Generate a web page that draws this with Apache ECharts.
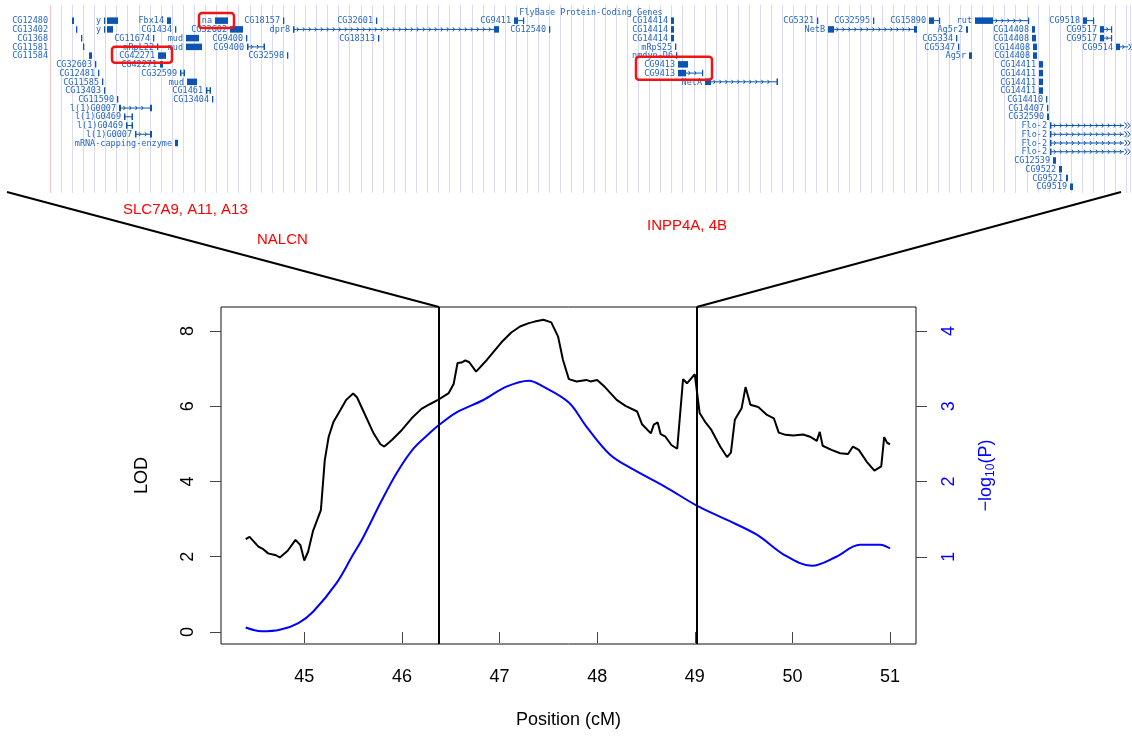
<!DOCTYPE html>
<html>
<head>
<meta charset="utf-8">
<title>LOD scan with gene track</title>
<script src="https://cdn.jsdelivr.net/npm/echarts@6/dist/echarts.min.js"></script>
<style>
  html, body { margin: 0; padding: 0; background: #fff; }
  #chart { width: 1132px; height: 740px; }
</style>
</head>
<body>
<div id="chart"></div>
<script>
// ---- QTL scan data (position in cM) ----
var lodCurve = [
  [44.40,2.47],[44.44,2.53],[44.53,2.27],[44.58,2.20],[44.63,2.09],[44.71,2.04],[44.75,1.98],
  [44.83,2.16],[44.91,2.45],[44.96,2.31],[45.00,1.90],[45.04,2.14],[45.09,2.69],[45.17,3.24],
  [45.21,4.57],[45.25,5.19],[45.30,5.59],[45.37,5.90],[45.43,6.17],[45.50,6.34],[45.54,6.24],
  [45.60,5.90],[45.71,5.28],[45.78,4.99],[45.82,4.93],[45.90,5.11],[46.00,5.37],[46.10,5.68],
  [46.20,5.93],[46.29,6.06],[46.37,6.17],[46.48,6.35],[46.53,6.59],[46.57,7.15],[46.61,7.16],
  [46.65,7.22],[46.69,7.17],[46.76,6.92],[46.87,7.23],[47.02,7.70],[47.12,7.96],[47.21,8.12],
  [47.30,8.21],[47.36,8.25],[47.45,8.30],[47.53,8.23],[47.60,7.85],[47.65,7.23],[47.71,6.72],
  [47.79,6.66],[47.89,6.70],[47.93,6.66],[48.00,6.70],[48.08,6.51],[48.20,6.17],[48.29,6.01],
  [48.41,5.86],[48.46,5.52],[48.55,5.28],[48.58,5.51],[48.62,5.57],[48.65,5.26],[48.70,5.19],
  [48.76,4.97],[48.82,4.87],[48.88,6.72],[48.92,6.61],[49.00,6.85],[49.01,6.86],[49.05,5.82],
  [49.11,5.57],[49.17,5.37],[49.26,4.93],[49.33,4.65],[49.37,4.77],[49.41,5.64],[49.48,5.95],
  [49.52,6.51],[49.54,6.56],[49.57,6.04],[49.65,5.98],[49.74,5.77],[49.81,5.68],[49.86,5.30],
  [49.93,5.24],[50.01,5.22],[50.11,5.25],[50.18,5.19],[50.25,5.08],[50.28,5.32],[50.31,4.95],
  [50.40,4.84],[50.49,4.75],[50.57,4.73],[50.62,4.93],[50.68,4.84],[50.76,4.53],[50.84,4.29],
  [50.91,4.40],[50.94,5.18],[50.97,5.03],[51.00,4.99]
];
var pCurve = [
  [44.40,0.06],[44.56,0.01],[44.75,0.03],[44.94,0.12],[45.09,0.27],[45.33,0.65],[45.50,1.03],
  [45.60,1.25],[45.79,1.74],[45.95,2.12],[46.12,2.44],[46.29,2.65],[46.37,2.74],[46.56,2.92],
  [46.83,3.08],[47.07,3.26],[47.30,3.34],[47.45,3.26],[47.71,3.05],[47.89,2.73],[48.13,2.36],
  [48.37,2.16],[48.71,1.92],[49.02,1.68],[49.33,1.49],[49.64,1.29],[49.91,1.03],[50.20,0.88],
  [50.45,1.00],[50.69,1.16],[50.90,1.16],[51.00,1.11]
];
var xTicks = [45, 46, 47, 48, 49, 50, 51];
var lodTicks = [0, 2, 4, 6, 8];
var pTicks = [1, 2, 3, 4];
var intervalBounds = [46.38, 49.02];

// ---- gene track: [name, row, start, end, kind, startBlock, endBlock, labelAt] ----
var genes = [
  ['CG12480',0,22,24,'b',0,0,-2], ['y',0,54,68,'u'], ['Fbx14',0,117,121,'b'], ['na',0,165,178,'b'],
  ['CG18157',0,233,234,'t'], ['CG32601',0,326,327,'t'], ['CG9411',0,464,474,'l',4,1],
  ['CG14414',0,621,624,'b'], ['CG5321',0,767,768,'t'], ['CG32595',0,823,824,'t'],
  ['CG15890',0,879,890,'l',5,1], ['rut',0,925,979,'l',18,1], ['CG9518',0,1033,1044,'l',4,1],
  ['CG13402',1,26,27,'t',0,0,-2], ['y',1,54,63,'u'], ['CG1434',1,125,126,'t'], ['CG32602',1,180,193,'b'],
  ['dpr8',1,243,449,'l',1.5,5], ['CG12540',1,499,500,'t'], ['CG14414',1,621,624,'b'],
  ['NetB',1,778,867,'l',6,3], ['Ag5r2',1,916,918,'b'], ['CG14408',1,982,985,'b'], ['CG9517',1,1050,1062,'l',4,1],
  ['CG1368',2,31,32,'t',0,0,-2], ['CG11674',2,103,104,'t'], ['mud',2,136,149,'b'], ['CG9400',2,196,197,'t'],
  ['CG18313',2,328,329,'t'], ['CG14414',2,621,624,'b'], ['CG5334',2,906,907,'t'], ['CG14408',2,982,986,'b'],
  ['CG9517',2,1050,1062,'l',4,1],
  ['CG11581',3,33,34,'t',0,0,-2], ['mRpL22',3,107,108,'t'], ['mud',3,136,152,'b'], ['CG9400',3,197,215,'l',1.5,1.5],
  ['mRpS25',3,625,626,'t'], ['CG5347',3,908,909,'t'], ['CG14408',3,983,987,'b'], ['CG9514',3,1066,1078,'l',4,0],
  ['CG11584',4,39,42,'b',0,0,-2], ['CG42271',4,108,116,'b'], ['CG32598',4,237,238,'t'], ['nmdyn-D6',4,626,627,'t'],
  ['Ag5r',4,919,922,'b'], ['CG14408',4,983,987,'b'],
  ['CG32603',5,45,46,'t'], ['CG42271',5,110,113,'b'], ['CG9413',5,628,638,'b'], ['CG14411',5,989,993,'b'],
  ['CG12481',6,48,49,'t'], ['CG32599',6,130,135,'l',1.5,1.5], ['CG9413',6,628,653,'l',8,1], ['CG14411',6,989,993,'b'],
  ['CG11585',7,52,53,'t'], ['mud',7,137,147,'b'], ['NetA',7,655,728,'l',6,1.5], ['CG14411',7,989,993,'b'],
  ['CG13403',8,54,55,'t'], ['CG1461',8,156,161,'l',1.5,1.5], ['CG14411',8,989,993,'b'],
  ['CG11590',9,67,68,'t'], ['CG13404',9,162,163,'t'], ['CG14410',9,996,997,'t'],
  ['l(1)G0007',10,69,102,'l',2,2], ['CG14407',10,997,998,'t'],
  ['l(1)G0469',11,74,83,'l',1.5,1.5], ['CG32590',11,997,999,'b'],
  ['l(1)G0469',12,76,83,'l',1.5,1.5], ['Flo-2',12,1000,1074,'l',1.5,0],
  ['l(1)G0007',13,85,102,'l',1.5,2], ['Flo-2',13,1000,1074,'l',1.5,0],
  ['mRNA-capping-enzyme',14,125,128,'b'], ['Flo-2',14,1000,1074,'l',1.5,0],
  ['Flo-2',15,1000,1074,'l',1.5,0],
  ['CG12539',16,1003,1006,'b'], ['CG9522',17,1009,1012,'b'], ['CG9521',18,1016,1018,'b'], ['CG9519',19,1020,1023,'b']
];
// highlighted candidates: [start, end, rowTop, rowBottom]
var highlights = [[149, 184, -0.88, 0.83], [62, 122, 3.0, 4.82], [586, 662, 4.13, 6.75]];
// human orthologue labels: [text, x, y]
var orthologs = [['SLC7A9, A11, A13', 123, 210], ['NALCN', 257, 240], ['INPP4A, 4B', 647, 226]];

var geneColor = '#0b55b0';
var geneText = '#2466c2';
var geneFont = '8.5px "DejaVu Sans Mono"';
var sans = '"Liberation Sans", Arial, sans-serif';

function renderGene(params, api) {
  var g = genes[params.dataIndex];
  var a = api.coord([g[2], g[1]]);
  var b = api.coord([g[3], g[1]]);
  var x0 = a[0], x1 = Math.max(b[0], a[0] + 1.2), cy = a[1], h = 6.5;
  var kids = [];
  function box(l, r) {
    kids.push({ type: 'rect', shape: { x: l, y: cy - h / 2, width: Math.max(r - l, 1.2), height: h },
      style: { fill: geneColor } });
  }
  function chevron(x, s) {
    kids.push({ type: 'polyline', shape: { points: [[x - s, cy - s - 0.5], [x, cy], [x - s, cy + s + 0.5]] },
      style: { stroke: geneColor, lineWidth: 1, fill: 'none' } });
  }
  if (g[4] === 'l') {
    kids.push({ type: 'line', shape: { x1: x0, y1: cy, x2: x1, y2: cy }, style: { stroke: geneColor, lineWidth: 1 } });
    for (var x = x0 + g[5] + 4; x < x1 - g[6] - 2; x += 6) chevron(x, 1.5);
    if (g[5]) box(x0, x0 + g[5]);
    if (g[6]) box(x1 - g[6], x1);
    else { chevron(x1 + 3, 2.5); chevron(x1 + 6, 2.5); }
  } else if (g[4] === 'u') {
    box(x0, x0 + 1.2);
    box(x0 + 3, x1);
  } else if (g[4] === 't') {
    box(x0, x0 + 1.3);
  } else {
    box(x0, x1);
  }
  var lx = g[7] !== undefined ? api.coord([g[7], g[1]])[0] : x0 - 3;
  kids.push({ type: 'text', x: lx, y: cy + 0.5,
    style: { text: g[0], fill: geneText, font: geneFont, align: 'right', verticalAlign: 'middle' } });
  return { type: 'group', children: kids };
}

function renderBox(params, api) {
  var hb = highlights[params.dataIndex];
  var p0 = api.coord([hb[0], hb[2]]);
  var p1 = api.coord([hb[1], hb[3]]);
  return { type: 'rect', shape: { x: p0[0], y: p0[1], width: p1[0] - p0[0], height: p1[1] - p0[1], r: 3 },
    style: { fill: 'none', stroke: '#f01414', lineWidth: 2.5 } };
}

var chart = echarts.init(document.getElementById('chart'));

var option = {
  animation: false,
  backgroundColor: '#fff',
  grid: [
    { left: 221, right: 216, top: 307, bottom: 96, show: true, borderColor: '#111', borderWidth: 1 },
    { left: 50, width: 1080, top: 5, height: 188, show: false }
  ],
  xAxis: [
    {
      type: 'value', gridIndex: 0, min: 44.147, max: 51.266,
      axisLine: { show: false }, splitLine: { show: false },
      axisTick: { show: true, length: 11, customValues: xTicks, lineStyle: { color: '#444' } },
      axisLabel: { customValues: xTicks, fontSize: 18, color: '#000', margin: 24, fontFamily: sans },
      name: 'Position (cM)', nameLocation: 'middle', nameGap: 67,
      nameTextStyle: { fontSize: 18, color: '#000', fontFamily: sans }
    },
    {
      type: 'value', gridIndex: 1, min: 0, max: 1080, interval: 11.1,
      axisLine: { show: false }, axisTick: { show: false }, axisLabel: { show: false },
      splitLine: { show: true, lineStyle: { color: '#dadaf6', width: 1 } }
    }
  ],
  yAxis: [
    {
      type: 'value', gridIndex: 0, min: -0.319, max: 8.638,
      axisLine: { show: false }, splitLine: { show: false },
      axisTick: { show: true, length: 11, customValues: lodTicks, lineStyle: { color: '#444' } },
      axisLabel: { customValues: lodTicks, rotate: 90, fontSize: 18, color: '#000', margin: 24, fontFamily: sans },
      name: 'LOD', nameLocation: 'middle', nameRotate: 90, nameGap: 70,
      nameTextStyle: { fontSize: 18, color: '#000', fontFamily: sans }
    },
    {
      type: 'value', gridIndex: 0, position: 'right', min: -0.159, max: 4.319,
      axisLine: { show: false }, splitLine: { show: false },
      axisTick: { show: true, length: 11, customValues: pTicks, lineStyle: { color: '#444' } },
      axisLabel: { customValues: pTicks, rotate: 90, fontSize: 18, color: '#0000ff', margin: 24, fontFamily: sans },
      name: '\u2212log{s|10}(P)', nameLocation: 'middle', nameRotate: 90, nameGap: 60,
      nameTextStyle: {
        fontSize: 18, color: '#0000ff', fontFamily: sans,
        rich: { s: { fontSize: 12, color: '#0000ff', fontFamily: sans, padding: [9, 0, 0, 0] } }
      }
    },
    {
      type: 'value', gridIndex: 1, min: -1.79, max: 19.72, inverse: true, show: false
    }
  ],
  series: [
    {
      name: 'LOD', type: 'line', xAxisIndex: 0, yAxisIndex: 0, data: lodCurve,
      showSymbol: false, smooth: false, z: 3,
      lineStyle: { color: '#000', width: 2 },
      markLine: {
        silent: true, symbol: 'none', label: { show: false },
        lineStyle: { color: '#000', width: 2, type: 'solid' },
        data: intervalBounds.map(function (v) { return { xAxis: v }; })
      }
    },
    {
      name: '-log10(P)', type: 'line', xAxisIndex: 0, yAxisIndex: 1, data: pCurve,
      showSymbol: false, smooth: 0.35, z: 2,
      lineStyle: { color: '#0000ff', width: 2 }
    },
    {
      name: 'genes', type: 'custom', xAxisIndex: 1, yAxisIndex: 2, clip: false,
      renderItem: renderGene,
      encode: { x: [0, 1], y: 2 },
      data: genes.map(function (g) { return [g[2], g[3], g[1]]; }),
      markLine: {
        silent: true, symbol: 'none', label: { show: false },
        lineStyle: { color: '#f7c4c4', width: 1, type: 'solid' },
        data: [{ xAxis: 0 }]
      }
    },
    {
      name: 'highlight', type: 'custom', xAxisIndex: 1, yAxisIndex: 2, clip: false, z: 5,
      renderItem: renderBox,
      encode: { x: [0, 1], y: [2, 3] },
      data: highlights.map(function (hb) { return hb.slice(); })
    }
  ]
};

chart.setOption(option);

// connect the gene track to the interval borders on the LOD plot
var leftTop = chart.convertToPixel({ gridIndex: 0 }, [intervalBounds[0], 8.638]);
var rightTop = chart.convertToPixel({ gridIndex: 0 }, [intervalBounds[1], 8.638]);
var graphics = [
  { type: 'text', x: 591, y: 13, style: { text: 'FlyBase Protein-Coding Genes', fill: geneText, font: geneFont,
    align: 'center', verticalAlign: 'middle' } },
  { type: 'line', shape: { x1: 7, y1: 192, x2: leftTop[0], y2: leftTop[1] }, style: { stroke: '#000', lineWidth: 2 } },
  { type: 'line', shape: { x1: 1121, y1: 192, x2: rightTop[0], y2: rightTop[1] }, style: { stroke: '#000', lineWidth: 2 } }
];
orthologs.forEach(function (o) {
  graphics.push({ type: 'text', x: o[1], y: o[2],
    style: { text: o[0], fill: '#ff0000', font: '15px ' + sans, align: 'left', verticalAlign: 'middle' } });
});
chart.setOption({ graphic: graphics });
</script>
</body>
</html>
